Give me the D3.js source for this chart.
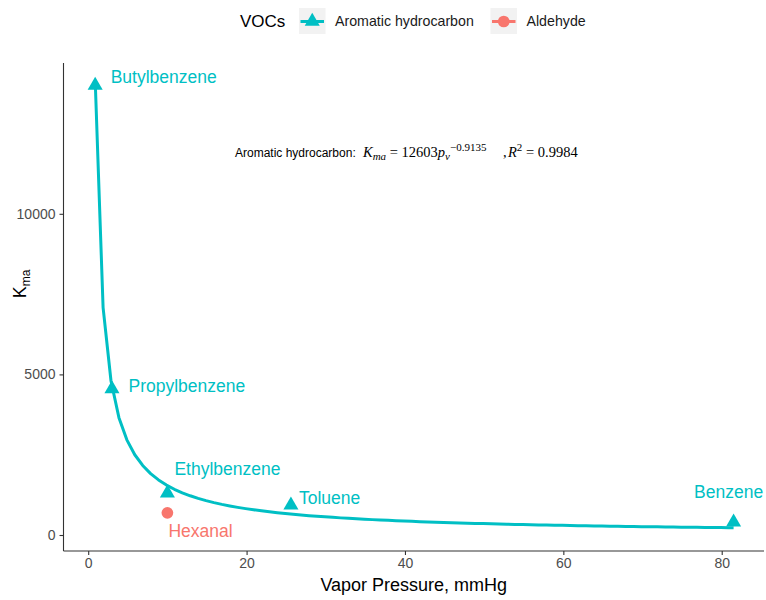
<!DOCTYPE html>
<html>
<head>
<meta charset="utf-8">
<script src="https://cdn.jsdelivr.net/npm/d3@7"></script>
<style>
  html, body { margin: 0; padding: 0; background: #fff; }
  svg { display: block; }
  text { font-family: "Liberation Sans", Arial, sans-serif; }
</style>
</head>
<body>
<svg id="chart" width="766" height="600"></svg>
<script>
// Compounds, their group, vapour pressure (mmHg) and Kma
const vocNames = ["Butylbenzene", "Propylbenzene", "Ethylbenzene", "Toluene", "Benzene", "Hexanal"];
const vocGroups = ["Aromatic hydrocarbon", "Aromatic hydrocarbon", "Aromatic hydrocarbon",
                   "Aromatic hydrocarbon", "Aromatic hydrocarbon", "Aldehyde"];
const vaporPressure = [0.88, 3.0, 10.0, 25.6, 81.5, 10.0];
const kmaValues = [14000, 4550, 1300, 930, 400, 690];

// Legend entries and axis ticks
const groupNames = ["Aromatic hydrocarbon", "Aldehyde"];
const xTicks = [0, 20, 40, 60, 80];
const yTicks = [0, 5000, 10000];

// Power-law fit for the aromatic hydrocarbons: Kma = a * pv^b
const fitCoef = 12603;
const fitExp = -0.9135;
const fitR2 = 0.9984;

// Label placement relative to each marker (px)
const labelOffsets = {
  Butylbenzene: { dx: 15.5, dy: -2.5, anchor: "start" },
  Propylbenzene: { dx: 16.5, dy: 3, anchor: "start" },
  Ethylbenzene: { dx: 7, dy: -18, anchor: "start" },
  Toluene: { dx: 8, dy: -1, anchor: "start" },
  Benzene: { dx: -5, dy: -24, anchor: "middle" },
  Hexanal: { dx: 1, dy: 24, anchor: "start" }
};

const color = d3.scaleOrdinal().domain(groupNames).range(["#00BFC4", "#F8766D"]);
const shape = d3.scaleOrdinal().domain(groupNames).range([d3.symbolTriangle, d3.symbolCircle]);

const svg = d3.select("#chart");
const panel = { left: 63.5, right: 764, top: 63, bottom: 551 };

const x = d3.scaleLinear().domain([-3.12, 85.34]).range([panel.left, panel.right]);
const y = d3.scaleLinear().domain([-498, 14695]).range([panel.bottom, panel.top]);

const data = vocNames.map((name, i) => ({
  name, group: vocGroups[i], pv: vaporPressure[i], kma: kmaValues[i]
}));

// Fitted curve, evaluated at unit steps across the aromatic range
const aromatic = data.filter(d => d.group === "Aromatic hydrocarbon");
const pvMin = d3.min(aromatic, d => d.pv);
const pvMax = d3.max(aromatic, d => d.pv);
const fitPv = d3.range(pvMin, pvMax, 1).concat([pvMax]);
const fitLine = fitPv.map(p => ({ pv: p, kma: fitCoef * Math.pow(p, fitExp) }));

svg.append("path")
  .datum(fitLine)
  .attr("fill", "none")
  .attr("stroke", color("Aromatic hydrocarbon"))
  .attr("stroke-width", 3)
  .attr("stroke-linejoin", "round")
  .attr("d", d3.line().x(d => x(d.pv)).y(d => y(d.kma)));

// Markers
const symbolSize = { "Aromatic hydrocarbon": 98, "Aldehyde": 108 };
svg.append("g").selectAll("path")
  .data(data)
  .join("path")
  .attr("transform", d => `translate(${x(d.pv)},${y(d.kma)})`)
  .attr("d", d => d3.symbol().type(shape(d.group)).size(symbolSize[d.group])())
  .attr("fill", d => color(d.group));

// Compound labels
svg.append("g").selectAll("text")
  .data(data)
  .join("text")
  .attr("x", d => x(d.pv) + labelOffsets[d.name].dx)
  .attr("y", d => y(d.kma) + labelOffsets[d.name].dy)
  .attr("text-anchor", d => labelOffsets[d.name].anchor)
  .attr("font-size", 17.5)
  .attr("fill", d => color(d.group))
  .text(d => d.name);

// Axes
const axisColor = "#333333";
const xAxis = svg.append("g")
  .attr("transform", `translate(0,${panel.bottom})`)
  .call(d3.axisBottom(x).tickValues(xTicks).tickSize(4).tickPadding(3).tickSizeOuter(0));
const yAxis = svg.append("g")
  .attr("transform", `translate(${panel.left},0)`)
  .call(d3.axisLeft(y).tickValues(yTicks).tickSize(4).tickPadding(4).tickSizeOuter(0).tickFormat(d3.format("d")));

[xAxis, yAxis].forEach(a => {
  a.select(".domain").attr("stroke", axisColor).attr("stroke-width", 1.1);
  a.selectAll(".tick line").attr("stroke", axisColor).attr("stroke-width", 1.1);
  a.selectAll(".tick text").attr("fill", "#4D4D4D").attr("font-size", 14)
    .attr("font-family", "'Liberation Sans', Arial, sans-serif");
});
xAxis.select(".domain").attr("d", `M${panel.left},0H${panel.right}`);
yAxis.select(".domain").attr("d", `M0,${panel.top}V${panel.bottom}`);

// Axis titles
svg.append("text")
  .attr("x", (panel.left + panel.right) / 2)
  .attr("y", 591)
  .attr("text-anchor", "middle")
  .attr("font-size", 18)
  .attr("fill", "#000")
  .text("Vapor Pressure, mmHg");

const yTitle = svg.append("text")
  .attr("transform", "translate(26,284) rotate(-90)")
  .attr("text-anchor", "middle")
  .attr("font-size", 18)
  .attr("fill", "#000");
yTitle.append("tspan").text("K");
yTitle.append("tspan").attr("font-size", 12).attr("dy", 4).text("ma");

// Legend
const legend = svg.append("g");
legend.append("text")
  .attr("x", 240).attr("y", 27)
  .attr("font-size", 17)
  .attr("fill", "#000")
  .text("VOCs");

const keyX = [299, 490.5];
const legendItems = legend.selectAll("g.key")
  .data(groupNames)
  .join("g")
  .attr("class", "key")
  .attr("transform", (d, i) => `translate(${keyX[i]},8)`);
legendItems.append("rect")
  .attr("width", 26.5).attr("height", 26)
  .attr("fill", "#F2F2F2");
legendItems.append("line")
  .attr("x1", 1.5).attr("x2", 25).attr("y1", 13.5).attr("y2", 13.5)
  .attr("stroke", d => color(d)).attr("stroke-width", 3);
legendItems.append("path")
  .attr("transform", "translate(13.25,13.5)")
  .attr("d", d => d3.symbol().type(shape(d)).size(symbolSize[d])())
  .attr("fill", d => color(d));
legendItems.append("text")
  .attr("x", 36).attr("y", 18)
  .attr("font-size", 14.2)
  .attr("fill", "#1A1A1A")
  .text(d => d);

// Fit equation annotation
const note = svg.append("text")
  .attr("x", 235).attr("y", 157)
  .attr("fill", "#000");
note.append("tspan")
  .attr("font-family", "'Liberation Sans', Arial, sans-serif")
  .attr("font-size", 12)
  .text("Aromatic hydrocarbon:");
const serif = "'Liberation Serif', 'Times New Roman', serif";
const big = 14.5, small = 11;
note.append("tspan").attr("x", 363).attr("font-family", serif).attr("font-size", big).attr("font-style", "italic").text("K");
note.append("tspan").attr("font-family", serif).attr("font-size", small).attr("font-style", "italic").attr("dy", 3).text("ma");
note.append("tspan").attr("font-family", serif).attr("font-size", big).attr("dy", -3).text(" = " + fitCoef);
note.append("tspan").attr("font-family", serif).attr("font-size", big).attr("font-style", "italic").text("p");
note.append("tspan").attr("font-family", serif).attr("font-size", small).attr("font-style", "italic").attr("dy", 3).text("v");
note.append("tspan").attr("font-family", serif).attr("font-size", small).attr("dy", -9).text("\u2212" + Math.abs(fitExp).toFixed(4));
note.append("tspan").attr("x", 503).attr("dy", 6).attr("font-family", serif).attr("font-size", big).text(",");
note.append("tspan").attr("x", 508).attr("font-family", serif).attr("font-size", big).attr("font-style", "italic").text("R");
note.append("tspan").attr("font-family", serif).attr("font-size", small).attr("dy", -6).text("2");
note.append("tspan").attr("font-family", serif).attr("font-size", big).attr("dy", 6).text(" = " + fitR2.toFixed(4));
</script>
</body>
</html>
